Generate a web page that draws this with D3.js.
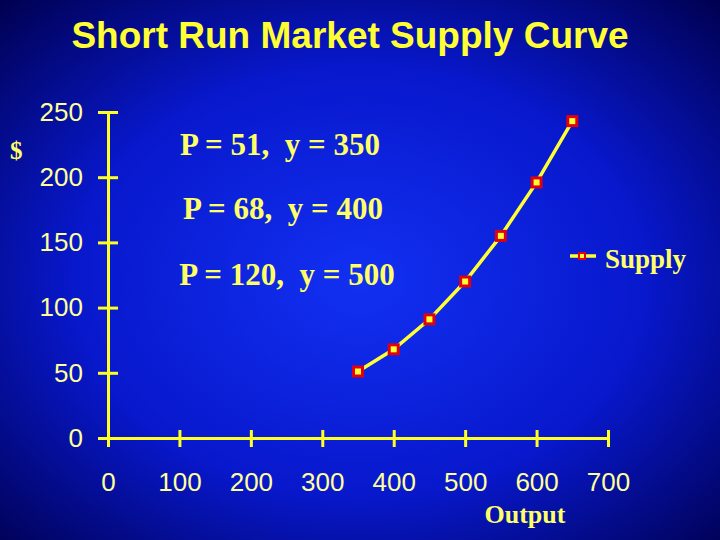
<!DOCTYPE html>
<html>
<head>
<meta charset="utf-8">
<script src="https://cdn.jsdelivr.net/npm/d3@7"></script>
<style>
  body { margin: 0; background: #000060; }
  svg { display: block; }
  text.note { white-space: pre; }
</style>
</head>
<body>
<svg id="chart"></svg>
<script>
// Datos de la curva de oferta
const output = [350, 400, 450, 500, 550, 600, 650];
const price = [51, 68, 91, 120, 155, 196, 243];
const yTicks = [0, 50, 100, 150, 200, 250];
const xTicks = [0, 100, 200, 300, 400, 500, 600, 700];
const notes = ["P = 51,  y = 350", "P = 68,  y = 400", "P = 120,  y = 500"];

const W = 720, H = 540;
const margin = { top: 112, right: 112, bottom: 102, left: 108 };
const width = W - margin.left - margin.right;
const height = H - margin.top - margin.bottom;

const svg = d3.select("#chart")
    .attr("width", W)
    .attr("height", H);

// Fondo con degradado radial
const grad = svg.append("defs").append("radialGradient")
    .attr("id", "bg")
    .attr("cx", "50%").attr("cy", "52%").attr("r", "72%");
grad.append("stop").attr("offset", "0%").attr("stop-color", "#1230f2");
grad.append("stop").attr("offset", "55%").attr("stop-color", "#0818cc");
grad.append("stop").attr("offset", "100%").attr("stop-color", "#000050");
svg.append("rect").attr("width", W).attr("height", H).attr("fill", "url(#bg)");

// Titulo
svg.append("text")
    .attr("x", 350).attr("y", 48)
    .attr("text-anchor", "middle")
    .attr("font-family", "Liberation Sans, Arial, sans-serif")
    .attr("font-weight", "bold")
    .attr("font-size", 37)
    .attr("fill", "#ffff33")
    .text("Short Run Market Supply Curve");

const g = svg.append("g")
    .attr("transform", `translate(${margin.left}, ${margin.top})`);

// Escalas
const x = d3.scaleLinear().domain([0, 700]).range([0, width]);
const y = d3.scaleLinear().domain([0, 250]).range([height, 0]);

// Ejes
const yAxis = g.append("g")
    .call(d3.axisLeft(y).tickValues(yTicks).tickSize(10).tickPadding(15).tickSizeOuter(0));
yAxis.selectAll(".tick line").attr("x1", 10);

const xAxis = g.append("g")
    .attr("transform", `translate(0, ${height})`)
    .call(d3.axisBottom(x).tickValues(xTicks).tickSize(9).tickPadding(26).tickSizeOuter(0));
xAxis.selectAll(".tick line").attr("y1", -8);

[yAxis, xAxis].forEach(ax => {
    ax.select(".domain").attr("stroke", "#ffff22").attr("stroke-width", 3);
    ax.selectAll(".tick line").attr("stroke", "#ffff22").attr("stroke-width", 3);
    ax.selectAll(".tick text")
        .attr("fill", "#ffff99")
        .attr("font-family", "Liberation Sans, Arial, sans-serif")
        .attr("font-size", 26);
});

// Linea
const line = d3.line()
    .x((d, i) => x(output[i]))
    .y(d => y(d));

g.append("path")
    .datum(price)
    .attr("fill", "none")
    .attr("stroke", "#ffff33")
    .attr("stroke-width", 3.5)
    .attr("d", line);

// Marcadores
g.selectAll("rect.pt")
    .data(price)
    .join("rect")
    .attr("class", "pt")
    .attr("x", (d, i) => x(output[i]) - 4.5)
    .attr("y", d => y(d) - 4.5)
    .attr("width", 9).attr("height", 9)
    .attr("fill", "#ffff33")
    .attr("stroke", "#e00010")
    .attr("stroke-width", 3);

// Textos serif
const serif = sel => sel
    .attr("font-family", "Liberation Serif, Times New Roman, serif")
    .attr("font-weight", "bold")
    .attr("fill", "#ffff66");

svg.selectAll("text.note")
    .data(notes)
    .join("text")
    .attr("class", "note")
    .attr("x", (d, i) => [280, 283, 287][i])
    .attr("y", (d, i) => [155, 219, 285][i])
    .attr("text-anchor", "middle")
    .attr("font-size", 31)
    .text(d => d)
    .call(serif);

svg.append("text").attr("x", 10).attr("y", 159).attr("font-size", 25).text("$").call(serif);
svg.append("text").attr("x", 525).attr("y", 523).attr("text-anchor", "middle")
    .attr("font-size", 26).text("Output").call(serif);

// Leyenda
const leg = svg.append("g").attr("transform", "translate(570, 256)");
leg.append("line").attr("x1", 0).attr("x2", 26)
    .attr("stroke", "#ffff33").attr("stroke-width", 3.5);
leg.append("rect").attr("x", 9).attr("y", -3).attr("width", 6).attr("height", 6)
    .attr("fill", "#ffff33").attr("stroke", "#e00010").attr("stroke-width", 2);
leg.append("text").attr("x", 35).attr("y", 12).attr("font-size", 27).text("Supply").call(serif);
</script>
</body>
</html>
